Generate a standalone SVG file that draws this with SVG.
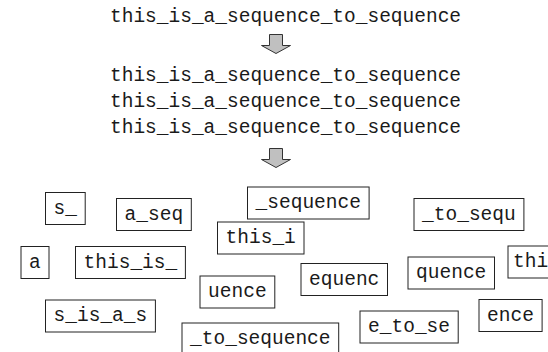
<svg xmlns="http://www.w3.org/2000/svg" width="548" height="352" viewBox="0 0 548 352">
<style>
text { font-family: "Liberation Mono", "Courier New", monospace; font-size: 19.5px; fill: #1a1a1a; }
.box rect { fill: #fff; stroke: #222; stroke-width: 1; }
.arrow { fill: #c0c0c0; stroke: #333; stroke-width: 1; }
</style>
<rect width="548" height="352" fill="#fff"/>
<g id="seq-top"><text x="110" y="22">this_is_a_sequence_to_sequence</text></g>
<g id="connectors">
<path class="arrow" d="M269.5,34.5 H282.5 V45.5 H290.5 L276,53.5 L261.5,45.5 H269.5 Z"/>
<path class="arrow" d="M269.5,148.5 H282.5 V159.5 H290.5 L276,167.5 L261.5,159.5 H269.5 Z"/>
</g>
<g id="seq-copies">
<text x="110" y="81">this_is_a_sequence_to_sequence</text>
<text x="110" y="107">this_is_a_sequence_to_sequence</text>
<text x="110" y="133">this_is_a_sequence_to_sequence</text>
</g>
<g id="n-s_" class="box"><rect x="45.5" y="192.5" width="39.7" height="32"/><text x="53.6" y="213.5">s_</text></g>
<g id="n-a_seq" class="box"><rect x="116.5" y="198.5" width="74.8" height="32"/><text x="124.6" y="219.5">a_seq</text></g>
<g id="n-_sequence" class="box"><rect x="247.5" y="187" width="121.6" height="32"/><text x="255.6" y="208">_sequence</text></g>
<g id="n-_to_sequ" class="box"><rect x="414" y="198.5" width="109.9" height="32"/><text x="422.1" y="219.5">_to_sequ</text></g>
<g id="n-this_i" class="box"><rect x="217.5" y="222" width="86.5" height="32"/><text x="225.6" y="243">this_i</text></g>
<g id="n-a" class="box"><rect x="21" y="246.5" width="28" height="32"/><text x="29.1" y="267.5">a</text></g>
<g id="n-this_is_" class="box"><rect x="75.5" y="246.5" width="109.9" height="32"/><text x="83.6" y="267.5">this_is_</text></g>
<g id="n-thi" class="box"><rect x="508" y="246" width="80" height="32"/><text x="513" y="267">thi</text></g>
<g id="n-quence" class="box"><rect x="408" y="257" width="86.5" height="32"/><text x="416.1" y="278">quence</text></g>
<g id="n-equenc" class="box"><rect x="301" y="263.5" width="86.5" height="32"/><text x="309.1" y="284.5">equenc</text></g>
<g id="n-uence" class="box"><rect x="200" y="276" width="74.8" height="32"/><text x="208.1" y="297">uence</text></g>
<g id="n-s_is_a_s" class="box"><rect x="45.5" y="300" width="109.9" height="32"/><text x="53.6" y="321">s_is_a_s</text></g>
<g id="n-ence" class="box"><rect x="479" y="299.5" width="63.1" height="32"/><text x="487.1" y="320.5">ence</text></g>
<g id="n-e_to_se" class="box"><rect x="360" y="311" width="98.2" height="32"/><text x="368.1" y="332">e_to_se</text></g>
<g id="n-_to_sequence" class="box"><rect x="182" y="323" width="156.7" height="32"/><text x="190.1" y="344">_to_sequence</text></g>
</svg>
